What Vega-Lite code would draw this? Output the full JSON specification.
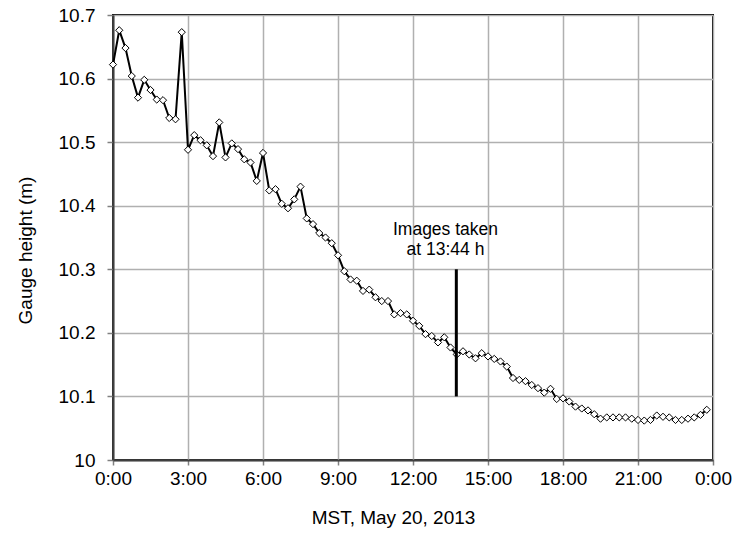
{
  "$schema": "https://vega.github.io/schema/vega-lite/v6.json",
  "width": 600,
  "height": 445,
  "autosize": "none",
  "padding": {"left": 113, "top": 15, "right": 20, "bottom": 77},
  "background": "white",
  "config": {
    "view": {"stroke": "black", "strokeWidth": 2},
    "font": "Liberation Sans",
    "axis": {
      "labelFont": "Liberation Sans",
      "titleFont": "Liberation Sans",
      "labelFontSize": 19,
      "titleFontSize": 19,
      "titleFontWeight": "normal",
      "labelColor": "#000000",
      "titleColor": "#000000",
      "gridColor": "#b0b0b0",
      "gridWidth": 1.5,
      "domainColor": "#404040",
      "domainWidth": 2,
      "tickColor": "#808080",
      "tickWidth": 1.5
    }
  },
  "datasets": {
    "gauge": [
      {"h": 0, "gh": 10.622}, {"h": 0.25, "gh": 10.676}, {"h": 0.5, "gh": 10.648}, {"h": 0.75, "gh": 10.604},
      {"h": 1, "gh": 10.570}, {"h": 1.25, "gh": 10.598}, {"h": 1.5, "gh": 10.582}, {"h": 1.75, "gh": 10.567},
      {"h": 2, "gh": 10.566}, {"h": 2.25, "gh": 10.538}, {"h": 2.5, "gh": 10.536}, {"h": 2.75, "gh": 10.673},
      {"h": 3, "gh": 10.488}, {"h": 3.25, "gh": 10.511}, {"h": 3.5, "gh": 10.503}, {"h": 3.75, "gh": 10.495},
      {"h": 4, "gh": 10.478}, {"h": 4.25, "gh": 10.531}, {"h": 4.5, "gh": 10.476}, {"h": 4.75, "gh": 10.498},
      {"h": 5, "gh": 10.489}, {"h": 5.25, "gh": 10.473}, {"h": 5.5, "gh": 10.468}, {"h": 5.75, "gh": 10.439},
      {"h": 6, "gh": 10.483}, {"h": 6.25, "gh": 10.424}, {"h": 6.5, "gh": 10.426}, {"h": 6.75, "gh": 10.403},
      {"h": 7, "gh": 10.396}, {"h": 7.25, "gh": 10.410}, {"h": 7.5, "gh": 10.430}, {"h": 7.75, "gh": 10.380},
      {"h": 8, "gh": 10.371}, {"h": 8.25, "gh": 10.357}, {"h": 8.5, "gh": 10.350}, {"h": 8.75, "gh": 10.341},
      {"h": 9, "gh": 10.322}, {"h": 9.25, "gh": 10.297}, {"h": 9.5, "gh": 10.284}, {"h": 9.75, "gh": 10.282},
      {"h": 10, "gh": 10.266}, {"h": 10.25, "gh": 10.268}, {"h": 10.5, "gh": 10.256}, {"h": 10.75, "gh": 10.250},
      {"h": 11, "gh": 10.250}, {"h": 11.25, "gh": 10.229}, {"h": 11.5, "gh": 10.231}, {"h": 11.75, "gh": 10.229},
      {"h": 12, "gh": 10.219}, {"h": 12.25, "gh": 10.211}, {"h": 12.5, "gh": 10.198}, {"h": 12.75, "gh": 10.195},
      {"h": 13, "gh": 10.185}, {"h": 13.25, "gh": 10.193}, {"h": 13.5, "gh": 10.177}, {"h": 13.75, "gh": 10.166},
      {"h": 14, "gh": 10.171}, {"h": 14.25, "gh": 10.166}, {"h": 14.5, "gh": 10.160}, {"h": 14.75, "gh": 10.168},
      {"h": 15, "gh": 10.163}, {"h": 15.25, "gh": 10.159}, {"h": 15.5, "gh": 10.155}, {"h": 15.75, "gh": 10.147},
      {"h": 16, "gh": 10.129}, {"h": 16.25, "gh": 10.126}, {"h": 16.5, "gh": 10.124}, {"h": 16.75, "gh": 10.118},
      {"h": 17, "gh": 10.113}, {"h": 17.25, "gh": 10.106}, {"h": 17.5, "gh": 10.112}, {"h": 17.75, "gh": 10.096},
      {"h": 18, "gh": 10.097}, {"h": 18.25, "gh": 10.092}, {"h": 18.5, "gh": 10.084}, {"h": 18.75, "gh": 10.081},
      {"h": 19, "gh": 10.078}, {"h": 19.25, "gh": 10.072}, {"h": 19.5, "gh": 10.065}, {"h": 19.75, "gh": 10.067},
      {"h": 20, "gh": 10.067}, {"h": 20.25, "gh": 10.067}, {"h": 20.5, "gh": 10.067}, {"h": 20.75, "gh": 10.065},
      {"h": 21, "gh": 10.063}, {"h": 21.25, "gh": 10.062}, {"h": 21.5, "gh": 10.063}, {"h": 21.75, "gh": 10.070},
      {"h": 22, "gh": 10.068}, {"h": 22.25, "gh": 10.067}, {"h": 22.5, "gh": 10.063}, {"h": 22.75, "gh": 10.063},
      {"h": 23, "gh": 10.065}, {"h": 23.25, "gh": 10.067}, {"h": 23.5, "gh": 10.071}, {"h": 23.75, "gh": 10.079}
    ],
    "marker": [{"h": 13.733, "top": 10.3, "bottom": 10.1}],
    "note": [
      {"h": 13.3, "gh": 10.362, "label": "Images taken"},
      {"h": 13.3, "gh": 10.330, "label": "at 13:44 h"}
    ]
  },
  "layer": [
    {
      "data": {"name": "gauge"},
      "mark": {"type": "line", "color": "black", "strokeWidth": 2},
      "encoding": {
        "x": {
          "field": "h", "type": "quantitative",
          "scale": {"domain": [0, 24], "nice": false, "zero": false},
          "axis": {
            "values": [0, 3, 6, 9, 12, 15, 18, 21, 24],
            "labelExpr": "(datum.value % 24) + ':00'",
            "title": "MST, May 20, 2013",
            "tickSize": 5,
            "labelPadding": 4,
            "labelFlush": false,
            "titleX": 280,
            "titleY": 57,
            "titleBaseline": "middle",
            "titleAnchor": "middle"
          }
        },
        "y": {
          "field": "gh", "type": "quantitative",
          "scale": {"domain": [10, 10.7], "nice": false, "zero": false},
          "axis": {
            "values": [10, 10.1, 10.2, 10.3, 10.4, 10.5, 10.6, 10.7],
            "format": ".1~f",
            "title": "Gauge height (m)",
            "tickSize": 6,
            "labelPadding": 12,
            "labelFlush": false,
            "titleX": -88,
            "titleY": 235,
            "titleBaseline": "middle",
            "titleAnchor": "middle",
            "titleAngle": -90
          }
        }
      }
    },
    {
      "data": {"name": "gauge"},
      "mark": {"type": "point", "shape": "diamond", "filled": true, "fill": "white", "stroke": "black", "strokeWidth": 1, "size": 52, "opacity": 1},
      "encoding": {
        "x": {"field": "h", "type": "quantitative"},
        "y": {"field": "gh", "type": "quantitative"}
      }
    },
    {
      "data": {"name": "marker"},
      "mark": {"type": "rule", "color": "black", "strokeWidth": 3},
      "encoding": {
        "x": {"field": "h", "type": "quantitative"},
        "y": {"field": "top", "type": "quantitative"},
        "y2": {"field": "bottom"}
      }
    },
    {
      "data": {"name": "note"},
      "mark": {"type": "text", "font": "Liberation Sans", "fontSize": 17.5, "color": "black", "align": "center", "baseline": "middle"},
      "encoding": {
        "x": {"field": "h", "type": "quantitative"},
        "y": {"field": "gh", "type": "quantitative"},
        "text": {"field": "label"}
      }
    }
  ]
}
